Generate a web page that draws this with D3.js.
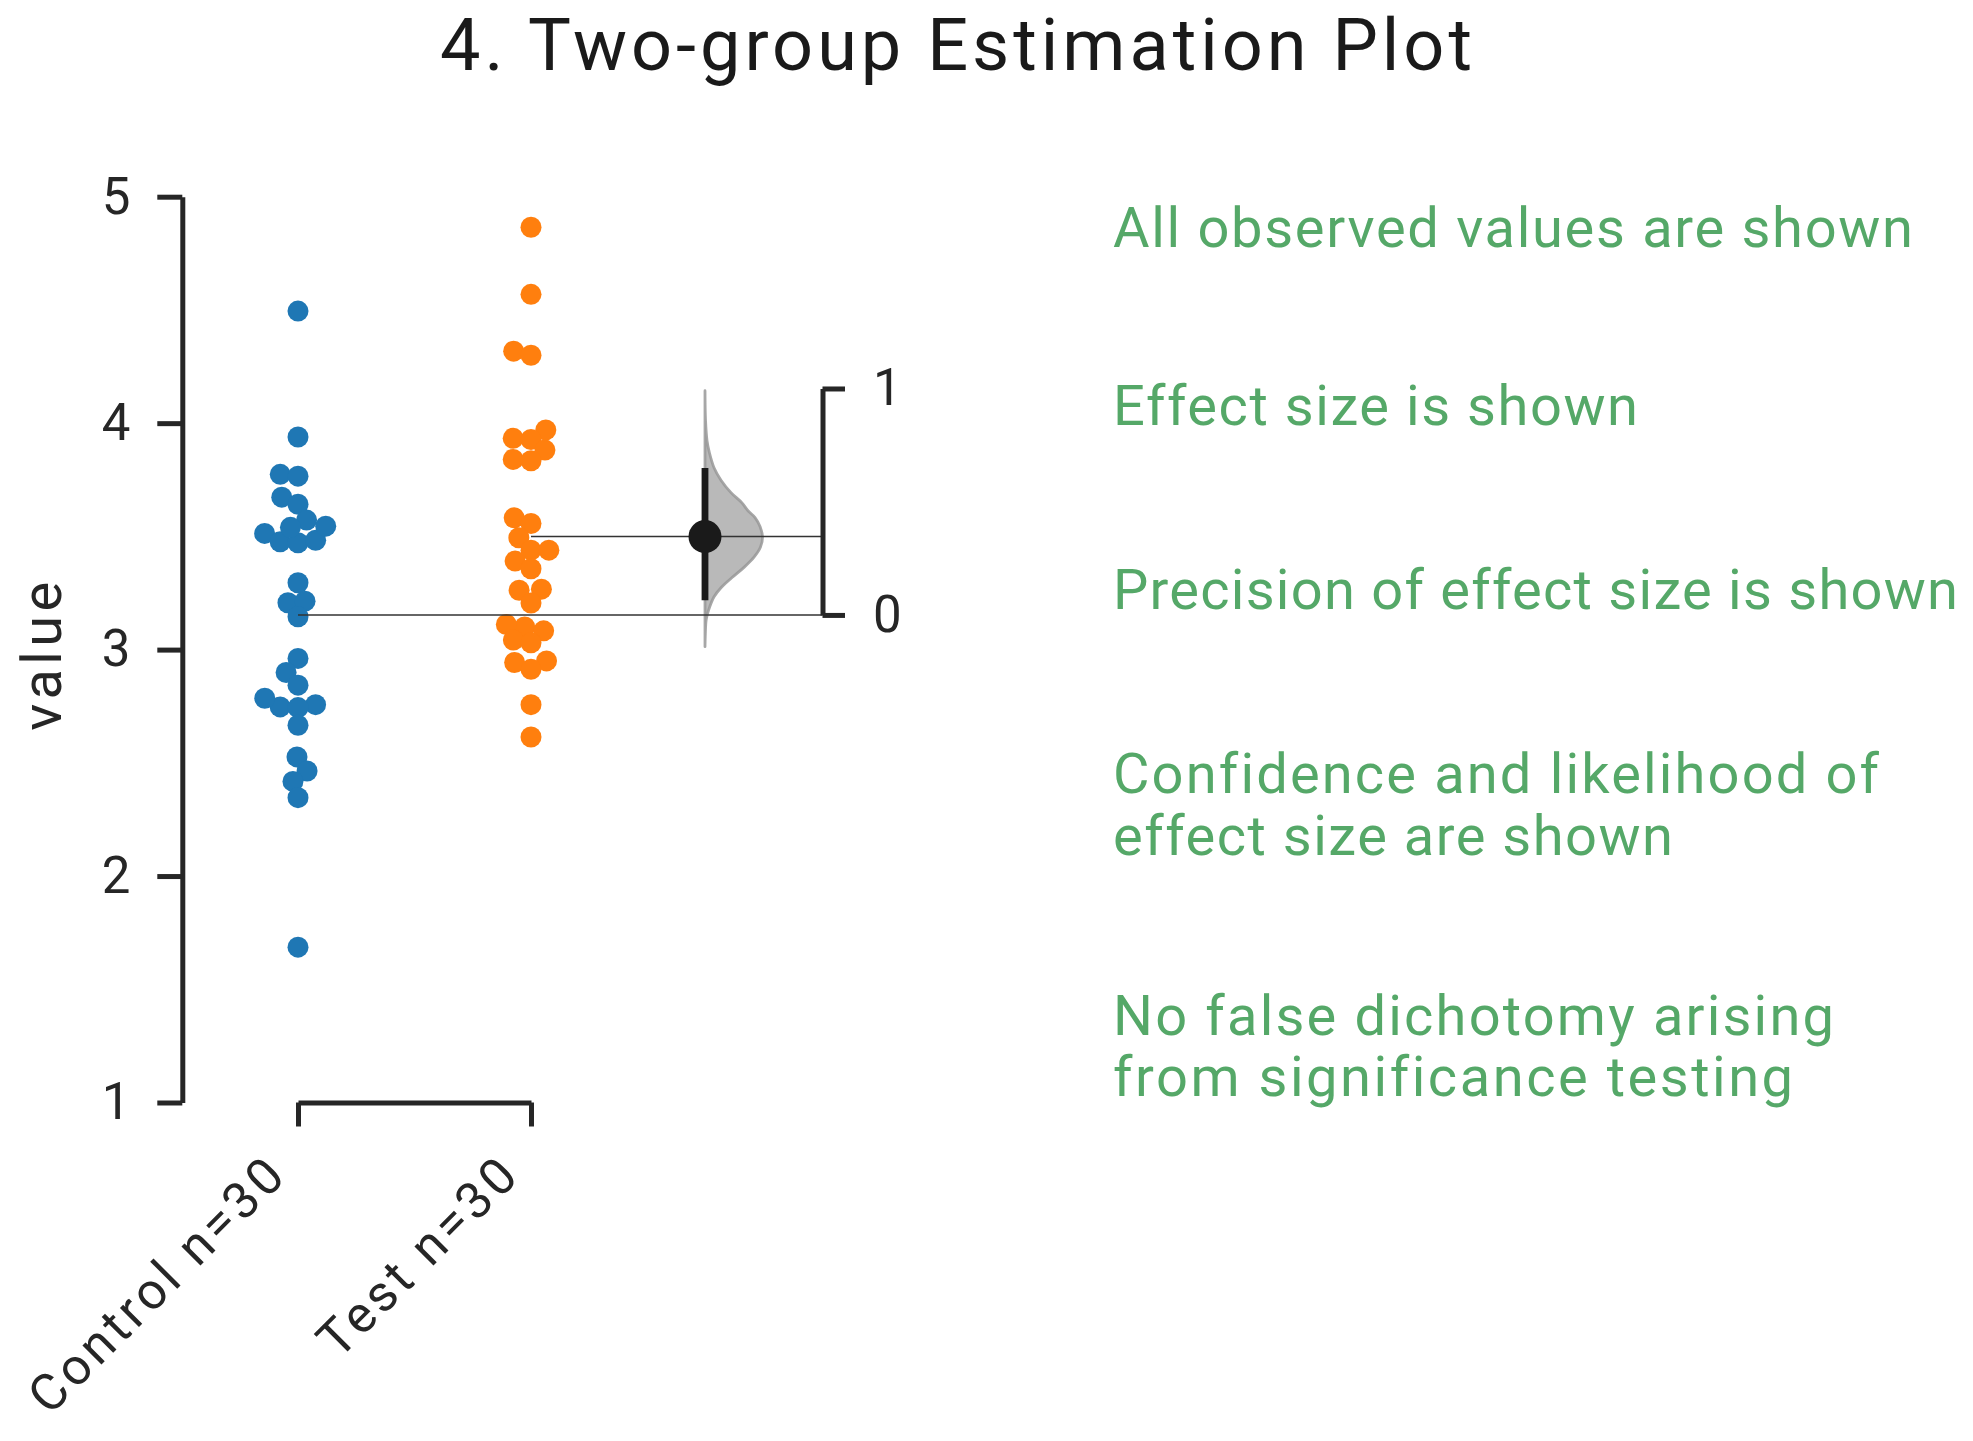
<!DOCTYPE html>
<html>
<head>
<meta charset="utf-8">
<script src="https://cdn.jsdelivr.net/npm/d3@7"></script>
<style>
  html, body { margin: 0; padding: 0; background: #ffffff; }
  svg { display: block; }
</style>
</head>
<body>
<svg id="chart" width="1973" height="1441"></svg>
<script>
// ---------------- DATA ----------------
const groupNames = ["Control n=30", "Test n=30"];
const controlValues = [4.495, 3.939, 3.774, 3.766, 3.673, 3.642, 3.572, 3.513, 3.476, 3.472,
  3.483, 3.540, 3.545, 3.295, 3.207, 3.214, 3.145, 2.961, 2.899, 2.843,
  2.757, 2.747, 2.744, 2.785, 2.666, 2.526, 2.464, 2.418, 2.346, 1.686];
const testValues = [4.865, 4.569, 4.318, 4.300, 3.970, 3.933, 3.928, 3.881, 3.840, 3.834,
  3.582, 3.557, 3.494, 3.439, 3.439, 3.391, 3.357, 3.262, 3.267, 3.206,
  3.100, 3.111, 3.083, 3.042, 3.030, 2.943, 2.950, 2.913, 2.757, 2.614];
const yTicks = [1, 2, 3, 4, 5];
const deltaTicks = [0, 1];
const deltaCI = [0.065, 0.649];
// bootstrap distribution profile of the mean difference
const deltaGrid = [0.99, 0.86, 0.77, 0.715, 0.65, 0.595, 0.54, 0.495, 0.46, 0.43, 0.39,
  0.345, 0.30, 0.255, 0.21, 0.165, 0.12, 0.08, 0.02, -0.02, -0.09, -0.14];
const deltaDensity = [0, 0.009, 0.035, 0.078, 0.157, 0.278, 0.452, 0.643, 0.748, 0.870, 0.957,
  1.0, 0.965, 0.852, 0.678, 0.470, 0.278, 0.157, 0.061, 0.021, 0.005, 0];
const titleText = "4. Two-group Estimation Plot";
const yLabelText = "value";
const notes = [
  ["All observed values are shown"],
  ["Effect size is shown"],
  ["Precision of effect size is shown"],
  ["Confidence and likelihood of", "effect size are shown"],
  ["No false dichotomy arising", "from significance testing"]
];

// ---------------- LAYOUT ----------------
const ink = "#262626";
const colors = ["#1f77b4", "#ff7f0e"];
const svg = d3.select("#chart");
const font = "Roboto, 'Noto Sans', sans-serif";

const y = d3.scaleLinear().domain([1, 5]).range([1102.5, 196.7]);
const x = d3.scalePoint().domain(groupNames).range([298, 531]);
const xDelta = x(groupNames[1]) + 174;
const rightAxisX = 822.5;

const controlMean = d3.mean(controlValues);
const testMean = d3.mean(testValues);
const deltaMean = testMean - controlMean;
const yd = d3.scaleLinear().domain([0, 1]).range([y(controlMean), y(controlMean + 1)]);
const wScale = d3.scaleLinear().domain([0, 1]).range([0, 57.5]);

function fitSpacing(sel, target) {
  const n = sel.text().length;
  sel.attr("letter-spacing", 0);
  const w = sel.node().getComputedTextLength();
  const ls = (target - w) / (n - 1);
  sel.attr("letter-spacing", ls);
  return ls;
}

// ---------------- TITLE ----------------
const title = svg.append("text")
  .attr("x", 440).attr("y", 70)
  .attr("font-family", font)
  .attr("font-size", 72)
  .attr("fill", "#1a1a1a")
  .text(titleText);
fitSpacing(title, 1032);

// ---------------- LEFT AXIS ----------------
const yAxis = d3.axisLeft(y).tickValues(yTicks).tickSize(25).tickSizeOuter(0).tickPadding(27)
  .tickFormat(d3.format("d"));
const gy = svg.append("g").attr("transform", `translate(182.3,0)`).call(yAxis);
gy.selectAll("path, line").attr("stroke", ink).attr("stroke-width", 5);
gy.selectAll("text").attr("font-family", font).attr("font-size", 51).attr("fill", ink)
  .attr("letter-spacing", 0);

const yl = svg.append("text")
  .attr("transform", `translate(61,654) rotate(-90)`)
  .attr("text-anchor", "middle")
  .attr("font-family", font).attr("font-size", 56).attr("fill", ink)
  .text(yLabelText);
fitSpacing(yl, 149);

// ---------------- BOTTOM AXIS ----------------
const xAxis = d3.axisBottom(x).tickSize(24).tickSizeOuter(0);
const gx = svg.append("g").attr("transform", `translate(0,${y(1)})`).call(xAxis);
gx.selectAll("path, line").attr("stroke", ink).attr("stroke-width", 5);
gx.selectAll("text")
  .attr("x", 0).attr("y", 0).attr("dy", 0)
  .attr("text-anchor", "end")
  .attr("transform", "translate(-9,74) rotate(-45)")
  .attr("font-family", font).attr("font-size", 51).attr("fill", ink)
  .attr("letter-spacing", 4);

// ---------------- SWARMS ----------------
function beeswarm(values, cx, d) {
  const pts = values.map((v, i) => ({ v, y: y(v), x: cx, i }));
  const order = pts.slice().sort((a, b) => b.y - a.y);
  const placed = [];
  for (const p of order) {
    const nb = placed.filter(q => Math.abs(q.y - p.y) < d);
    const cands = [cx];
    let leftFirst = true;
    for (const q of nb) {
      const dy = p.y - q.y;
      const dx = Math.sqrt(Math.max(d * d - dy * dy, 0)) * 1.05;
      if (leftFirst) cands.push(q.x - dx, q.x + dx); else cands.push(q.x + dx, q.x - dx);
      leftFirst = !leftFirst;
    }
    const sorted = cands.map((c, k) => ({ c, k }))
      .sort((a, b) => (Math.abs(a.c - cx) - Math.abs(b.c - cx)) || (a.k - b.k));
    for (const s of sorted) {
      if (nb.every(q => (q.x - s.c) ** 2 + (q.y - p.y) ** 2 >= d * d * 0.999)) { p.x = s.c; break; }
    }
    placed.push(p);
  }
  return pts;
}

[controlValues, testValues].forEach((vals, gi) => {
  const pts = beeswarm(vals, x(groupNames[gi]), 17);
  svg.append("g").selectAll("circle").data(pts).join("circle")
    .attr("cx", d => d.x).attr("cy", d => d.y).attr("r", 10.5)
    .attr("fill", colors[gi]);
});

// ---------------- DELTA (contrast) ----------------
const violinData = deltaGrid.map((d, i) => ({ delta: d, dens: deltaDensity[i] }));
const area = d3.area()
  .y(d => yd(d.delta))
  .x0(xDelta)
  .x1(d => xDelta + wScale(d.dens))
  .curve(d3.curveCatmullRom);
svg.append("path").datum(violinData)
  .attr("d", area)
  .attr("fill", "#b9b9b9")
  .attr("stroke", "#989898").attr("stroke-opacity", 0.85)
  .attr("stroke-width", 2.8).attr("stroke-linejoin", "round");

// mean reference lines
svg.append("line")
  .attr("x1", x(groupNames[0])).attr("x2", rightAxisX)
  .attr("y1", y(controlMean)).attr("y2", y(controlMean))
  .attr("stroke", "#333333").attr("stroke-width", 1.6);
svg.append("line")
  .attr("x1", x(groupNames[1])).attr("x2", rightAxisX)
  .attr("y1", y(testMean)).attr("y2", y(testMean))
  .attr("stroke", "#333333").attr("stroke-width", 1.6);

// CI + effect size
svg.append("line")
  .attr("x1", xDelta).attr("x2", xDelta)
  .attr("y1", yd(deltaCI[0])).attr("y2", yd(deltaCI[1]))
  .attr("stroke", "#1a1a1a").attr("stroke-width", 6.8);
svg.append("circle")
  .attr("cx", xDelta).attr("cy", yd(deltaMean)).attr("r", 16.5)
  .attr("fill", "#1a1a1a");

// right axis
const rAxis = d3.axisRight(yd).tickValues(deltaTicks).tickSize(22.5).tickSizeOuter(0).tickPadding(28)
  .tickFormat(d3.format("d"));
const gr = svg.append("g").attr("transform", `translate(${rightAxisX},0)`).call(rAxis);
gr.selectAll("path, line").attr("stroke", ink).attr("stroke-width", 5);
gr.selectAll("text").attr("font-family", font).attr("font-size", 51).attr("fill", ink);

// ---------------- NOTES ----------------
const baselines = [[246.7], [425], [608.5], [793, 855], [1035, 1096]];
const lineWidths = [[800], [525], [845], [764], [560], [721], [678]];
const noteG = svg.append("g");
let k = 0;
notes.forEach((lines, bi) => {
  lines.forEach((line, li) => {
    const t = noteG.append("text")
      .attr("x", 1113).attr("y", baselines[bi][li])
      .attr("font-family", font).attr("font-size", 56).attr("fill", "#55a868")
      .text(line);
    const ls = fitSpacing(t, lineWidths[k][0]);
    t.attr("letter-spacing", Math.max(0, Math.min(ls, 3.2)));
    k++;
  });
});
</script>
</body>
</html>
